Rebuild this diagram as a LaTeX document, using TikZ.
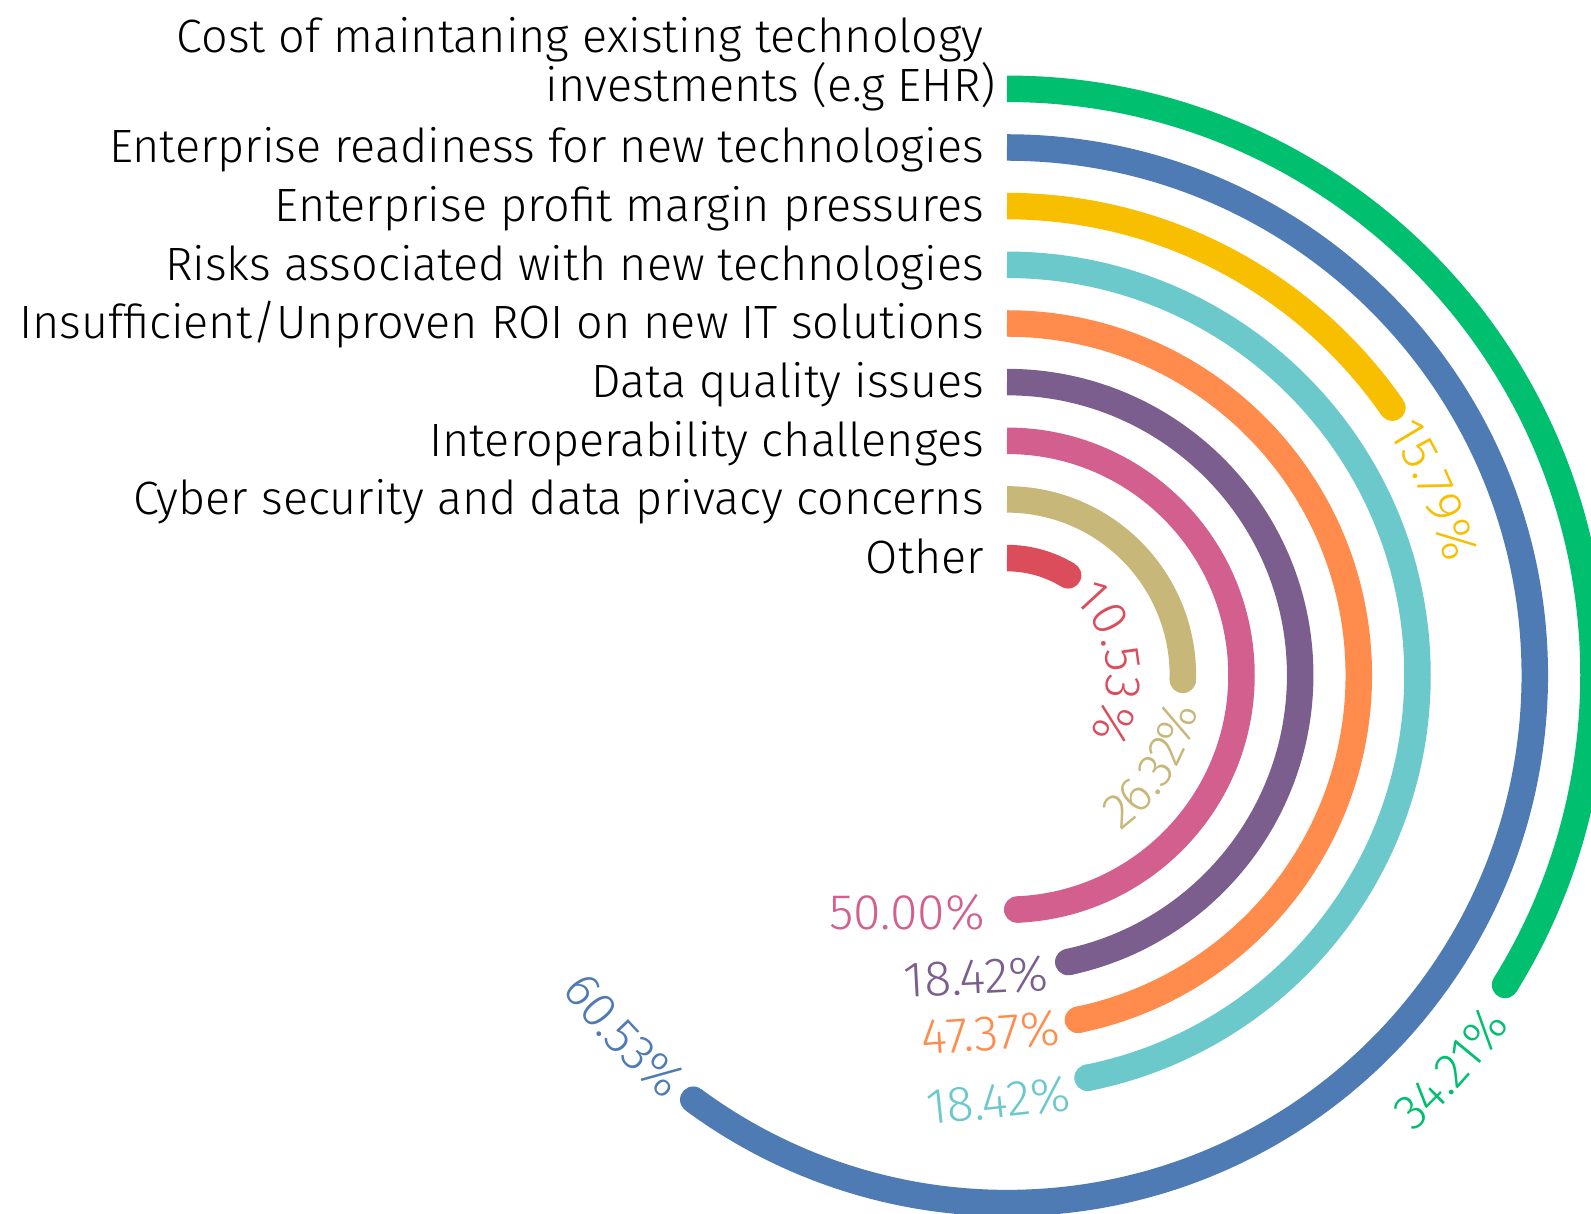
\documentclass[tikz,border=0pt]{standalone}
\usepackage{fontspec}
\newfontfamily\chartfont{Fira Sans Light}

\definecolor{gcost}{HTML}{00BF6F}
\definecolor{gready}{HTML}{4E7BB4}
\definecolor{gprofit}{HTML}{F8BE00}
\definecolor{grisk}{HTML}{6BC8CB}
\definecolor{groi}{HTML}{FF8C4C}
\definecolor{gdata}{HTML}{7B5E8E}
\definecolor{ginter}{HTML}{D35F8F}
\definecolor{gcyber}{HTML}{C7B778}
\definecolor{gother}{HTML}{DC4D5C}

\newcommand\catfont{\chartfont\fontsize{46.7}{49}\selectfont}
\font\pctfont="Fira Sans Light" at 50pt

\tikzset{bar/.style={line width=26.5pt, line cap=butt},
  catlabel/.style={anchor=base east, inner sep=0pt, font=\catfont},
  pctlabel/.style={anchor=east, inner sep=0pt, font=\pctfont}}

% value written letter by letter along a circle
% #1 radius, #2 angle where the text starts (clockwise) or ends (counter-clockwise),
% #3 -1 clockwise / 1 counter-clockwise, #4 colour, #5 letters
\newdimen\chw
\newdimen\totwd
\newcommand\bentlabel[5]{%
  \global\totwd=0pt
  \foreach \ch in {#5}{\setbox0\hbox{\pctfont\ch}\global\advance\totwd by\wd0}%
  \pgfmathsetmacro\rad{#1+#3*17}%
  \pgfmathsetmacro\st{#2-(1+#3)/2*\totwd/\rad*180/pi}%
  \global\let\curang\st
  \foreach \ch [count=\i] in {#5}{%
    \setbox0\hbox{\pctfont\ch}\chw=\wd0
    \pgfmathsetmacro\midang{\curang+#3*(\chw/2)/\rad*180/pi}%
    \pgfmathsetmacro\nextang{\curang+#3*\chw/\rad*180/pi}%
    \node[#4, font=\pctfont, inner sep=0pt, anchor=base, rotate=\midang+#3*90] (#4\i) at (\midang:\rad) {\ch};
    \global\let\curang\nextang
  }}

\begin{document}
\begin{tikzpicture}[x=1pt,y=1pt]
  \useasboundingbox (-1007,-538.7) rectangle (584,675.3);
  \clip (-1007,-538.7) rectangle (584,675.3);

  % bars, from the outside in; the round end is a disc
  \draw[bar,gcost]   (90:586.5) arc[start angle=90, delta angle=-121.87, radius=586.5] coordinate (ecost);
  \draw[bar,gready]  (90:527.8) arc[start angle=90, delta angle=-216.47, radius=527.8] coordinate (eready);
  \draw[bar,gprofit] (90:469.2) arc[start angle=90, delta angle=-55.22, radius=469.2] coordinate (eprofit);
  \draw[bar,grisk]   (90:410.5) arc[start angle=90, delta angle=-168.68, radius=410.5] coordinate (erisk);
  \draw[bar,groi]    (90:351.8) arc[start angle=90, delta angle=-168.37, radius=351.8] coordinate (eroi);
  \draw[bar,gdata]   (90:293.2) arc[start angle=90, delta angle=-167.94, radius=293.2] coordinate (edata);
  \draw[bar,ginter]  (90:234.5) arc[start angle=90, delta angle=-177.5, radius=234.5] coordinate (einter);
  \draw[bar,gcyber]  (90:175.9) arc[start angle=90, delta angle=-91.5, radius=175.9] coordinate (ecyber);
  \draw[bar,gother]  (90:117.2) arc[start angle=90, delta angle=-31.43, radius=117.2] coordinate (eother);
  \fill[gcost] (ecost) circle[radius=13.25];
  \fill[gready] (eready) circle[radius=13.25];
  \fill[gprofit] (eprofit) circle[radius=13.25];
  \fill[grisk] (erisk) circle[radius=13.25];
  \fill[groi] (eroi) circle[radius=13.25];
  \fill[gdata] (edata) circle[radius=13.25];
  \fill[ginter] (einter) circle[radius=13.25];
  \fill[gcyber] (ecyber) circle[radius=13.25];
  \fill[gother] (eother) circle[radius=13.25];

  % category names
  \node[catlabel] (cost2) at (-11,573.5) {investments (e.g EHR)};
  \node[catlabel] (cost1) at (-23,622.5) {Cost of maintaning existing technology};
  \node[catlabel] (ready) at (-23,512.3) {Enterprise readiness for new technologies};
  \node[catlabel] (profit) at (-23,453.7) {Enterprise profit margin pressures};
  \node[catlabel] (risk) at (-23,395.0) {Risks associated with new technologies};
  \node[catlabel] (roi) at (-23,336.3) {Insufficient/Unproven ROI on new IT solutions};
  \node[catlabel] (data) at (-23,277.7) {Data quality issues};
  \node[catlabel] (inter) at (-23,219.0) {Interoperability challenges};
  \node[catlabel] (cyber) at (-23,160.4) {Cyber security and data privacy concerns};
  \node[catlabel] (other) at (-23,101.7) {Other};

  % values at the bar ends
  \bentlabel{117.2}{48.5}{-1}{gother}{1,0,.,5,3,\%}
  \bentlabel{469.2}{32.4}{-1}{gprofit}{1,5,.,7,9,\%}
  \bentlabel{175.9}{-10}{1}{gcyber}{2,6,.,3,2,\%}
  \bentlabel{527.8}{231.2}{1}{gready}{6,0,.,5,3,\%}
  \bentlabel{595}{-34.8}{1}{gcost}{3,4,.,2,1,\%}
  \node[pctlabel,ginter] (vinter) at (-22,-237.2) {50.00\%};
  \node[pctlabel,gdata,rotate=3] (vdata) at (41.3,-297.9) {18.42\%};
  \node[pctlabel,groi,rotate=4] (vroi) at (53,-352.9) {47.37\%};
  \node[pctlabel,grisk,rotate=6] (vrisk) at (63,-417.7) {18.42\%};
\end{tikzpicture}
\end{document}
